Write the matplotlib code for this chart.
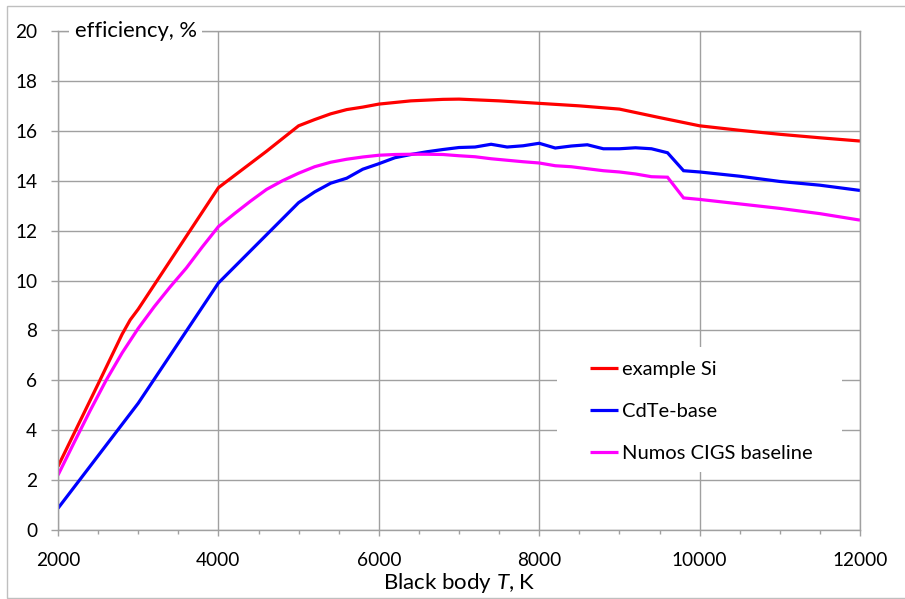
import matplotlib
matplotlib.use("Agg")
import matplotlib.pyplot as plt
import matplotlib.patches as patches
from matplotlib.ticker import MultipleLocator

plt.rcParams['font.family'] = ['Lato', 'DejaVu Sans']
plt.rcParams['mathtext.fontset'] = 'custom'
plt.rcParams['mathtext.rm'] = 'Lato'
plt.rcParams['mathtext.it'] = 'Lato:italic'

# example Si
si_T = [2000, 2500, 2800, 2900, 3000, 4000, 4600, 5000, 5200, 5400, 5600, 5800,
        6000, 6400, 6800, 7000, 7500, 8000, 8500, 9000, 9500, 10000, 10500, 11000,
        11500, 12000]
si_eff = [2.55, 5.85, 7.85, 8.42, 8.85, 13.72, 15.18, 16.2, 16.45, 16.68, 16.85,
          16.95, 17.07, 17.2, 17.26, 17.27, 17.2, 17.1, 17.0, 16.87, 16.53, 16.2,
          16.02, 15.86, 15.72, 15.59]

# CdTe-base
cdte_T = [2000, 3000, 4000, 5000, 5200, 5400, 5600, 5800, 6000, 6200, 6400, 6600,
          6800, 7000, 7200, 7400, 7600, 7800, 8000, 8200, 8400, 8600, 8800, 9000,
          9200, 9400, 9600, 9800, 10000, 10500, 11000, 11500, 12000]
cdte_eff = [0.87, 5.08, 9.9, 13.12, 13.55, 13.9, 14.1, 14.46, 14.68, 14.92, 15.05,
            15.16, 15.25, 15.33, 15.35, 15.46, 15.35, 15.4, 15.5, 15.31, 15.39,
            15.44, 15.28, 15.28, 15.32, 15.28, 15.12, 14.4, 14.35, 14.18, 13.97,
            13.82, 13.61]

# Numos CIGS baseline
cigs_T = [2000, 2200, 2400, 2600, 2800, 3000, 3200, 3400, 3600, 3800, 4000, 4200,
          4400, 4600, 4800, 5000, 5200, 5400, 5600, 5800, 6000, 6200, 6400, 6600,
          6800, 7000, 7200, 7400, 7600, 7800, 8000, 8200, 8400, 8600, 8800, 9000,
          9200, 9400, 9600, 9800, 10000, 10500, 11000, 11500, 12000]
cigs_eff = [2.2, 3.5, 4.78, 6.0, 7.1, 8.08, 8.95, 9.75, 10.5, 11.35, 12.16, 12.68,
            13.18, 13.65, 14.0, 14.3, 14.56, 14.74, 14.86, 14.95, 15.02, 15.05,
            15.06, 15.06, 15.05, 15.0, 14.96, 14.88, 14.82, 14.76, 14.71, 14.6,
            14.56, 14.48, 14.4, 14.35, 14.27, 14.16, 14.14, 13.31, 13.25, 13.07,
            12.89, 12.68, 12.42]

series = [
    (si_T, si_eff, "example Si", "#FF0000"),
    (cdte_T, cdte_eff, "CdTe-base", "#0000FF"),
    (cigs_T, cigs_eff, "Numos CIGS baseline", "#FF00FF"),
]

grid_col = "#A0A0A0"

fig = plt.figure(figsize=(9.05, 5.99), dpi=100)
ax = fig.add_axes([58/905, 1-530/599, 802/905, 499/599])

# outer chart border
fig.patches.append(patches.Rectangle((7/905, 1/599), 1.0, 1-7/599,
                                     transform=fig.transFigure, fill=False,
                                     edgecolor="#BFBFBF", linewidth=1.0))

for T, eff, name, col in series:
    ax.plot(T, eff, color=col, lw=2.3, label=name, solid_joinstyle='miter',
            solid_capstyle='butt', zorder=2)

ax.set_xlim(2000, 12000)
ax.set_ylim(0, 20)
ax.xaxis.set_major_locator(MultipleLocator(2000))
ax.xaxis.set_minor_locator(MultipleLocator(500))
ax.yaxis.set_major_locator(MultipleLocator(2))
ax.set_axisbelow(True)
ax.grid(True, which='major', color=grid_col, lw=1.0)
for s in ax.spines.values():
    s.set_color(grid_col)
    s.set_linewidth(1.0)

ax.tick_params(axis='both', which='major', labelsize=13.7, color=grid_col, width=1.0)
ax.tick_params(axis='y', which='major', length=5, pad=10)
ax.tick_params(axis='x', which='major', length=4.5, pad=11)
ax.tick_params(axis='x', which='minor', length=3, color=grid_col, width=1.0)

ax.set_xlabel("Black body $T$, K", fontsize=16, labelpad=2)

ax.text(0.021, 1.0, "efficiency, %", transform=ax.transAxes, fontsize=15.8,
        ha='left', va='center',
        bbox=dict(boxstyle='square,pad=0.25', facecolor='white', edgecolor='none'))

# legend background
ax.add_patch(patches.Rectangle((0.622, 0.1162), 0.3556, 0.2505,
                               transform=ax.transAxes, facecolor='white',
                               edgecolor='none', zorder=3))
leg = ax.legend(loc='upper left', bbox_to_anchor=(0.6633, 0.339), frameon=False,
                fontsize=14.5, handlelength=1.4, handletextpad=0.2,
                labelspacing=1.25, borderpad=0, borderaxespad=0)
leg.set_zorder(5)

fig.savefig("out.png", dpi=100)
